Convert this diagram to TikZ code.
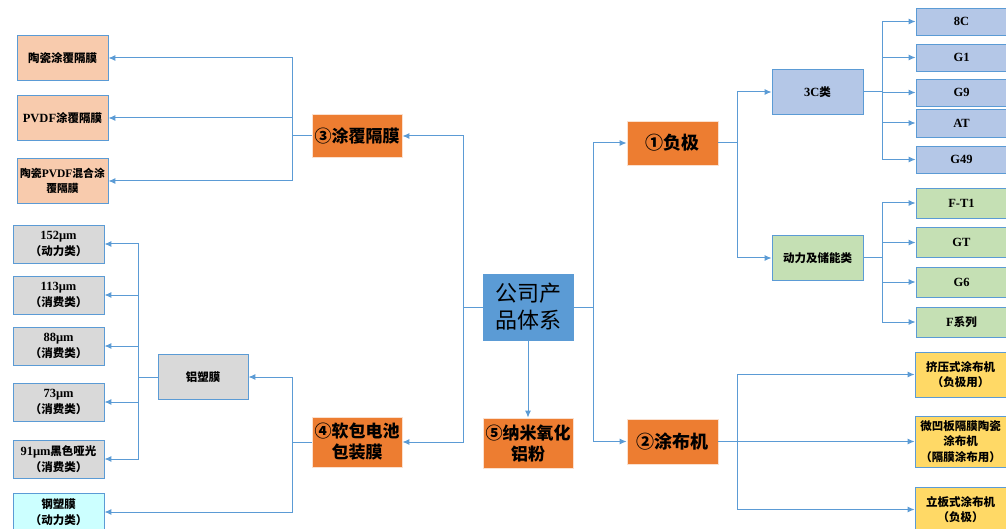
\documentclass[tikz,border=0pt]{standalone}
\usepackage{fontspec}
\setmainfont{Liberation Serif}
\newfontfamily\cjk{Noto Sans CJK SC}
\newfontfamily\ser{Liberation Serif}
\usetikzlibrary{arrows.meta,calc}
\definecolor{lineblue}{HTML}{5B9BD5}
\definecolor{peach}{HTML}{F8CBAD}
\definecolor{grayf}{HTML}{D9D9D9}
\definecolor{cyanf}{HTML}{CCFFFF}
\definecolor{bluef}{HTML}{B4C7E7}
\definecolor{greenf}{HTML}{C5E0B4}
\definecolor{yellowf}{HTML}{FFD966}
\definecolor{orangef}{HTML}{ED7D31}
\definecolor{rootf}{HTML}{5B9BD5}
\tikzset{
  box/.style={draw=lineblue, line width=0.9pt, minimum width=91pt, inner sep=1pt, align=center,
    font=\cjk\bfseries\fontsize{11.5}{15.5}\selectfont},
  lat/.style={font=\ser\bfseries\fontsize{12.5}{14}\selectfont},
  main/.style={draw=peach!60, line width=0.8pt, fill=orangef, minimum width=90pt, inner sep=1pt, align=center,
    font=\cjk\bfseries\fontsize{17}{21}\selectfont},
  arr/.style={draw=lineblue, line width=1pt, -{Latex[length=7pt,width=6pt]}},
  ln/.style={draw=lineblue, line width=1pt}
}
\newcommand{\lt}[1]{{\ser\fontsize{12.5}{14}\selectfont #1}}
\begin{document}
\begin{tikzpicture}[x=1pt,y=-1pt]
\useasboundingbox (0,0) rectangle (1006,529);
\clip (0,0) rectangle (1006,529);

% root and main branches
\node[draw=rootf, fill=rootf, minimum width=90pt, minimum height=66pt, align=center,
  font=\cjk\fontsize{22}{27}\selectfont] (root) at (528,307) {公司产\\品体系};
\node[main, minimum height=43pt] (n3) at (357,136) {③涂覆隔膜};
\node[main, minimum height=50pt] (n4) at (357,442) {④软包电池\\包装膜};
\node[main, minimum height=50pt] (n5) at (528,443) {⑤纳米氧化\\铝粉};
\node[main, minimum width=91pt, minimum height=44pt, font=\cjk\bfseries\fontsize{18}{21}\selectfont] (n1) at (672.5,143) {①负极};
\node[main, minimum width=91pt, minimum height=45pt, font=\cjk\bfseries\fontsize{18}{21}\selectfont] (n2) at (672.5,441.5) {②涂布机};

% left peach
\node[box, fill=peach, minimum height=45pt] (p1) at (62.5,58) {陶瓷涂覆隔膜};
\node[box, fill=peach, minimum height=45pt] (p2) at (62.5,118) {\lt{PVDF}涂覆隔膜};
\node[box, fill=peach, minimum height=45pt, font=\cjk\bfseries\fontsize{10.8}{15.5}\selectfont] (p3) at (62.5,181) {陶瓷{\ser\fontsize{11.5}{14}\selectfont PVDF}混合涂\\覆隔膜};

% left gray
\node[box, fill=grayf, minimum height=38pt] (g1) at (58.5,244) {\lt{152μm}\\（动力类）};
\node[box, fill=grayf, minimum height=38pt] (g2) at (58.5,295) {\lt{113μm}\\（消费类）};
\node[box, fill=grayf, minimum height=38pt] (g3) at (58.5,346) {\lt{88μm}\\（消费类）};
\node[box, fill=grayf, minimum height=38pt] (g4) at (58.5,402) {\lt{73μm}\\（消费类）};
\node[box, fill=grayf, minimum height=38pt] (g5) at (58.5,459) {\lt{91μm}黑色哑光\\（消费类）};
\node[box, fill=cyanf, minimum height=38pt] (g6) at (58.5,512) {钢塑膜\\（动力类）};
\node[box, fill=grayf, minimum width=90pt, minimum height=45pt] (al) at (203,377) {铝塑膜};

% right: negative electrode
\node[box, fill=bluef, minimum height=45pt] (c3) at (817.5,92) {\lt{3C}类};
\node[box, fill=greenf, minimum height=45pt] (dl) at (817.5,258) {动力及储能类};
\node[box, lat, fill=bluef, minimum height=27pt] (b1) at (961.5,21.5) {8C};
\node[box, lat, fill=bluef, minimum height=27pt] (b2) at (961.5,57.5) {G1};
\node[box, lat, fill=bluef, minimum height=27pt] (b3) at (961.5,92.5) {G9};
\node[box, lat, fill=bluef, minimum height=28pt] (b4) at (961.5,123) {AT};
\node[box, lat, fill=bluef, minimum height=27pt] (b5) at (961.5,159.5) {G49};
\node[box, lat, fill=greenf, minimum height=30pt] (e1) at (961.5,203) {F-T1};
\node[box, lat, fill=greenf, minimum height=30pt] (e2) at (961.5,242.5) {GT};
\node[box, lat, fill=greenf, minimum height=30pt] (e3) at (961.5,282) {G6};
\node[box, fill=greenf, minimum height=30pt] (e4) at (961.5,322) {\lt{F}系列};

% right: coaters
\node[box, fill=yellowf, minimum height=45pt] (y1) at (960.5,374.5) {挤压式涂布机\\（负极用）};
\node[box, fill=yellowf, minimum height=51pt] (y2) at (960.5,441.5) {微凹板隔膜陶瓷\\涂布机\\（隔膜涂布用）};
\node[box, fill=yellowf, minimum height=45pt] (y3) at (960.5,509.5) {立板式涂布机\\（负极）};

% trunk coordinates
\coordinate (tR) at (593,0);
\coordinate (tL) at (463,0);
\coordinate (t1) at (737,0);
\coordinate (t3c) at (882,0);
\coordinate (t3) at (292,0);
\coordinate (t4) at (292,0);
\coordinate (tal) at (138,0);

% root connectors
\draw[arr] (root.east) -- (root.east -| tR) |- (n1.west);
\draw[arr] (root.east) -- (root.east -| tR) |- (n2.west);
\draw[arr] (root.west) -- (root.west -| tL) |- (n3.east);
\draw[arr] (root.west) -- (root.west -| tL) |- (n4.east);
\draw[arr] (root.south) -- (n5.north);

% negative electrode
\draw[arr] (n1.east) -- (n1.east -| t1) |- (c3.west);
\draw[arr] (n1.east) -- (n1.east -| t1) |- (dl.west);
\foreach \b in {b1,b2,b3,b4,b5}
  \draw[arr] (c3.east) -- (c3.east -| t3c) |- (\b.west);
\foreach \b in {e1,e2,e3,e4}
  \draw[arr] (dl.east) -- (dl.east -| t3c) |- (\b.west);

% coaters
\foreach \b in {y1,y2,y3}
  \draw[arr] (n2.east) -- (n2.east -| t1) |- (\b.west);

% coating separator
\foreach \b in {p1,p2,p3}
  \draw[arr] (n3.west) -- (n3.west -| t3) |- (\b.east);

% pouch film
\draw[arr] (n4.west) -- (n4.west -| t4) |- (al.east);
\draw[arr] (n4.west) -- (n4.west -| t4) |- (g6.east);
\foreach \b in {g1,g2,g3,g4,g5}
  \draw[arr] (al.west) -- (al.west -| tal) |- (\b.east);
\end{tikzpicture}
\end{document}
